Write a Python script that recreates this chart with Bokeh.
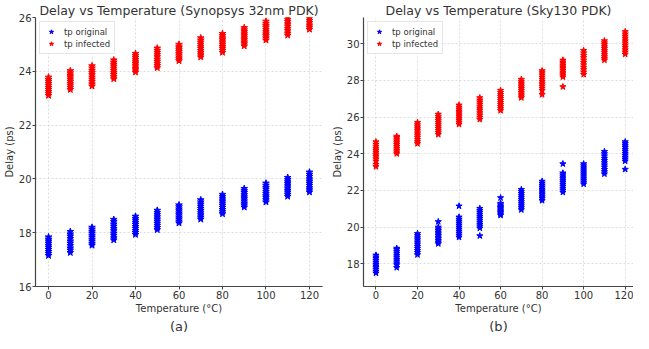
from bokeh.plotting import figure
from bokeh.layouts import row
from bokeh.models import FixedTicker, Title
from bokeh.embed import file_html
from bokeh.resources import INLINE

temps = [0, 10, 20, 30, 40, 50, 60, 70, 80, 90, 100, 110, 120]

# (a) Synopsys 32nm PDK
a_orig = [
    [17.15, 17.23, 17.30, 17.38, 17.46, 17.53, 17.61, 17.69, 17.76, 17.84],
    [17.26, 17.35, 17.43, 17.52, 17.61, 17.69, 17.78, 17.87, 17.95, 18.04],
    [17.53, 17.60, 17.68, 17.75, 17.83, 17.90, 17.98, 18.05, 18.13, 18.20],
    [17.73, 17.81, 17.90, 17.98, 18.07, 18.15, 18.24, 18.32, 18.41, 18.49],
    [17.93, 18.01, 18.08, 18.16, 18.23, 18.31, 18.38, 18.46, 18.53, 18.61],
    [18.11, 18.19, 18.27, 18.35, 18.43, 18.51, 18.59, 18.67, 18.75, 18.83],
    [18.36, 18.43, 18.51, 18.58, 18.66, 18.73, 18.81, 18.88, 18.96, 19.03],
    [18.50, 18.58, 18.66, 18.74, 18.82, 18.90, 18.98, 19.06, 19.14, 19.22],
    [18.70, 18.78, 18.86, 18.94, 19.02, 19.10, 19.18, 19.26, 19.34, 19.42],
    [18.95, 19.03, 19.10, 19.18, 19.26, 19.33, 19.41, 19.49, 19.56, 19.64],
    [19.14, 19.22, 19.30, 19.37, 19.45, 19.53, 19.61, 19.68, 19.76, 19.84],
    [19.35, 19.43, 19.51, 19.58, 19.66, 19.74, 19.82, 19.89, 19.97, 20.05],
    [19.51, 19.59, 19.67, 19.76, 19.84, 19.92, 20.00, 20.09, 20.17, 20.25],
]
a_inf = [
    [23.10, 23.18, 23.25, 23.33, 23.40, 23.48, 23.55, 23.63, 23.70, 23.78],
    [23.32, 23.40, 23.48, 23.55, 23.63, 23.71, 23.79, 23.86, 23.94, 24.02],
    [23.45, 23.53, 23.62, 23.70, 23.78, 23.87, 23.95, 24.03, 24.12, 24.20],
    [23.72, 23.80, 23.88, 23.95, 24.03, 24.11, 24.19, 24.26, 24.34, 24.42],
    [23.97, 24.05, 24.12, 24.20, 24.28, 24.35, 24.43, 24.51, 24.58, 24.66],
    [24.13, 24.21, 24.29, 24.37, 24.45, 24.54, 24.62, 24.70, 24.78, 24.86],
    [24.39, 24.46, 24.53, 24.60, 24.66, 24.73, 24.80, 24.87, 24.93, 25.00],
    [24.53, 24.61, 24.69, 24.77, 24.85, 24.92, 25.00, 25.08, 25.16, 25.24],
    [24.70, 24.78, 24.86, 24.93, 25.01, 25.09, 25.17, 25.24, 25.32, 25.40],
    [24.94, 25.02, 25.09, 25.17, 25.24, 25.32, 25.39, 25.47, 25.54, 25.62],
    [25.16, 25.24, 25.32, 25.39, 25.47, 25.55, 25.63, 25.70, 25.78, 25.86],
    [25.34, 25.42, 25.51, 25.59, 25.68, 25.76, 25.85, 25.93, 26.02, 26.10],
    [25.56, 25.64, 25.72, 25.81, 25.89, 25.97, 26.05, 26.14, 26.22, 26.30],
]

# (b) Sky130 PDK
b_orig = [
    [17.50, 17.60, 17.70, 17.80, 17.89, 17.99, 18.09, 18.19, 18.29, 18.38, 18.48],
    [17.80, 17.95, 18.05, 18.16, 18.26, 18.37, 18.47, 18.58, 18.68, 18.78, 18.85],
    [18.50, 18.62, 18.73, 18.85, 18.96, 19.08, 19.19, 19.31, 19.42, 19.54, 19.65],
    [19.10, 19.19, 19.28, 19.37, 19.46, 19.55, 19.64, 19.73, 19.82, 19.91, 20.00, 20.30],
    [19.45, 19.56, 19.67, 19.78, 19.89, 20.00, 20.11, 20.22, 20.33, 20.44, 20.55, 21.15],
    [19.53, 19.95, 20.06, 20.16, 20.27, 20.38, 20.49, 20.59, 20.70, 20.81, 20.91, 21.02],
    [20.65, 20.72, 20.79, 20.86, 20.93, 21.00, 21.07, 21.14, 21.22, 21.30, 21.60],
    [20.95, 21.06, 21.17, 21.28, 21.39, 21.50, 21.61, 21.72, 21.83, 21.94, 22.05],
    [21.45, 21.56, 21.66, 21.77, 21.87, 21.98, 22.08, 22.19, 22.29, 22.40, 22.50],
    [21.90, 22.01, 22.11, 22.22, 22.32, 22.43, 22.53, 22.64, 22.74, 22.85, 22.95, 23.45],
    [22.35, 22.46, 22.57, 22.68, 22.79, 22.90, 23.01, 23.12, 23.23, 23.34, 23.45],
    [22.90, 23.02, 23.14, 23.27, 23.39, 23.51, 23.63, 23.75, 23.88, 24.00, 24.12],
    [23.15, 23.60, 23.71, 23.81, 23.92, 24.02, 24.13, 24.23, 24.34, 24.44, 24.55, 24.65],
]
b_inf = [
    [23.30, 23.42, 23.60, 23.72, 23.84, 23.95, 24.06, 24.17, 24.28, 24.40, 24.52, 24.65],
    [24.00, 24.10, 24.20, 24.30, 24.40, 24.50, 24.60, 24.70, 24.80, 24.88, 24.95],
    [24.55, 24.66, 24.78, 24.90, 25.02, 25.13, 25.25, 25.36, 25.47, 25.58, 25.70],
    [25.05, 25.16, 25.27, 25.38, 25.49, 25.60, 25.71, 25.82, 25.93, 26.04, 26.15],
    [25.60, 25.70, 25.81, 25.91, 26.02, 26.12, 26.23, 26.33, 26.44, 26.54, 26.65],
    [25.87, 25.99, 26.11, 26.23, 26.35, 26.46, 26.58, 26.70, 26.82, 26.93, 27.05],
    [26.35, 26.46, 26.57, 26.68, 26.79, 26.90, 27.01, 27.12, 27.23, 27.34, 27.45],
    [27.05, 27.15, 27.25, 27.35, 27.45, 27.55, 27.65, 27.75, 27.85, 27.95, 28.05],
    [27.22, 27.45, 27.57, 27.69, 27.81, 27.93, 28.05, 28.17, 28.29, 28.41, 28.52],
    [27.65, 28.18, 28.27, 28.36, 28.45, 28.55, 28.64, 28.73, 28.82, 28.91, 29.00, 29.10],
    [28.32, 28.45, 28.58, 28.71, 28.84, 28.97, 29.10, 29.23, 29.36, 29.49, 29.62],
    [29.10, 29.20, 29.31, 29.41, 29.52, 29.62, 29.73, 29.83, 29.94, 30.04, 30.15],
    [29.42, 29.54, 29.66, 29.79, 29.91, 30.03, 30.15, 30.28, 30.40, 30.52, 30.65],
]

x_ticks = [0, 20, 40, 60, 80, 100, 120]
a_y_ticks = [16, 18, 20, 22, 24, 26]
b_y_ticks = [18, 20, 22, 24, 26, 28, 30]

FONT = "DejaVu Sans"
TXT = "#333333"


def flatten(groups):
    xs, ys = [], []
    for t, vals in zip(temps, groups):
        for v in vals:
            xs.append(t)
            ys.append(v)
    return xs, ys


def make(title, orig, inf, x_range, y_range, y_ticks, width, sub,
         bl, br, msize):
    p = figure(width=width, height=333, x_range=x_range, y_range=y_range,
               output_backend="svg", toolbar_location=None,
               min_border_left=bl, min_border_right=br,
               min_border_top=0, min_border_bottom=0)
    p.title.text = title
    p.title.align = "center"
    p.title.text_font = FONT
    p.title.text_font_size = "12.5px"
    p.title.text_font_style = "normal"
    p.title.text_color = TXT
    p.title.standoff = 0
    p.title.offset = 0

    xo, yo = flatten(orig)
    xi, yi = flatten(inf)
    p.scatter(xo, yo, marker="star", size=msize, color="#0000ff",
              legend_label="tp original")
    p.scatter(xi, yi, marker="star", size=msize, color="#ff0000",
              legend_label="tp infected")

    p.outline_line_color = None
    for ax in (p.xaxis[0], p.yaxis[0]):
        ax.axis_line_color = "#444444"
        ax.axis_line_width = 1.2
        ax.major_tick_line_color = "#444444"
        ax.major_tick_in = 0
        ax.major_tick_out = 3
        ax.minor_tick_line_color = None
        ax.major_label_text_font = FONT
        ax.major_label_text_font_size = "10px"
        ax.major_label_text_color = TXT
        ax.axis_label_text_font = FONT
        ax.axis_label_text_font_size = "10px"
        ax.axis_label_text_font_style = "normal"
        ax.axis_label_text_color = TXT
        ax.major_label_standoff = 1
        ax.axis_label_standoff = 1
    p.xaxis.ticker = FixedTicker(ticks=x_ticks)
    p.yaxis.ticker = FixedTicker(ticks=y_ticks)
    p.xaxis.axis_label = "Temperature (°C)"
    p.yaxis.axis_label = "Delay (ps)"

    p.grid.grid_line_color = "#d4d4d4"
    p.grid.grid_line_dash = "2 2"
    p.grid.grid_line_width = 0.8

    lg = p.legend[0]
    lg.location = "top_left"
    lg.label_text_font = FONT
    lg.label_text_font_size = "8.5px"
    lg.label_text_color = TXT
    lg.label_height = 11
    lg.glyph_height = 11
    lg.glyph_width = 14
    lg.spacing = 1
    lg.padding = 4
    lg.margin = 4
    lg.label_standoff = 6
    lg.border_line_color = "#cccccc"
    lg.background_fill_alpha = 0.85

    p.add_layout(Title(text=sub, align="center", text_font=FONT,
                       text_font_size="13px", text_font_style="normal",
                       text_color=TXT, standoff=0, offset=0), "below")
    return p


p1 = make("Delay vs Temperature (Synopsys 32nm PDK)", a_orig, a_inf,
          (-6, 126), (16, 26), a_y_ticks, 326, "(a)", 25, 4, 7)
p2 = make("Delay vs Temperature (Sky130 PDK)", b_orig, b_inf,
          (-6, 124), (16.77, 31.42), b_y_ticks, 307, "(b)", 37, 0, 6.5)

layout = row(p1, p2)
open("out.html", "w").write(file_html(layout, INLINE))
